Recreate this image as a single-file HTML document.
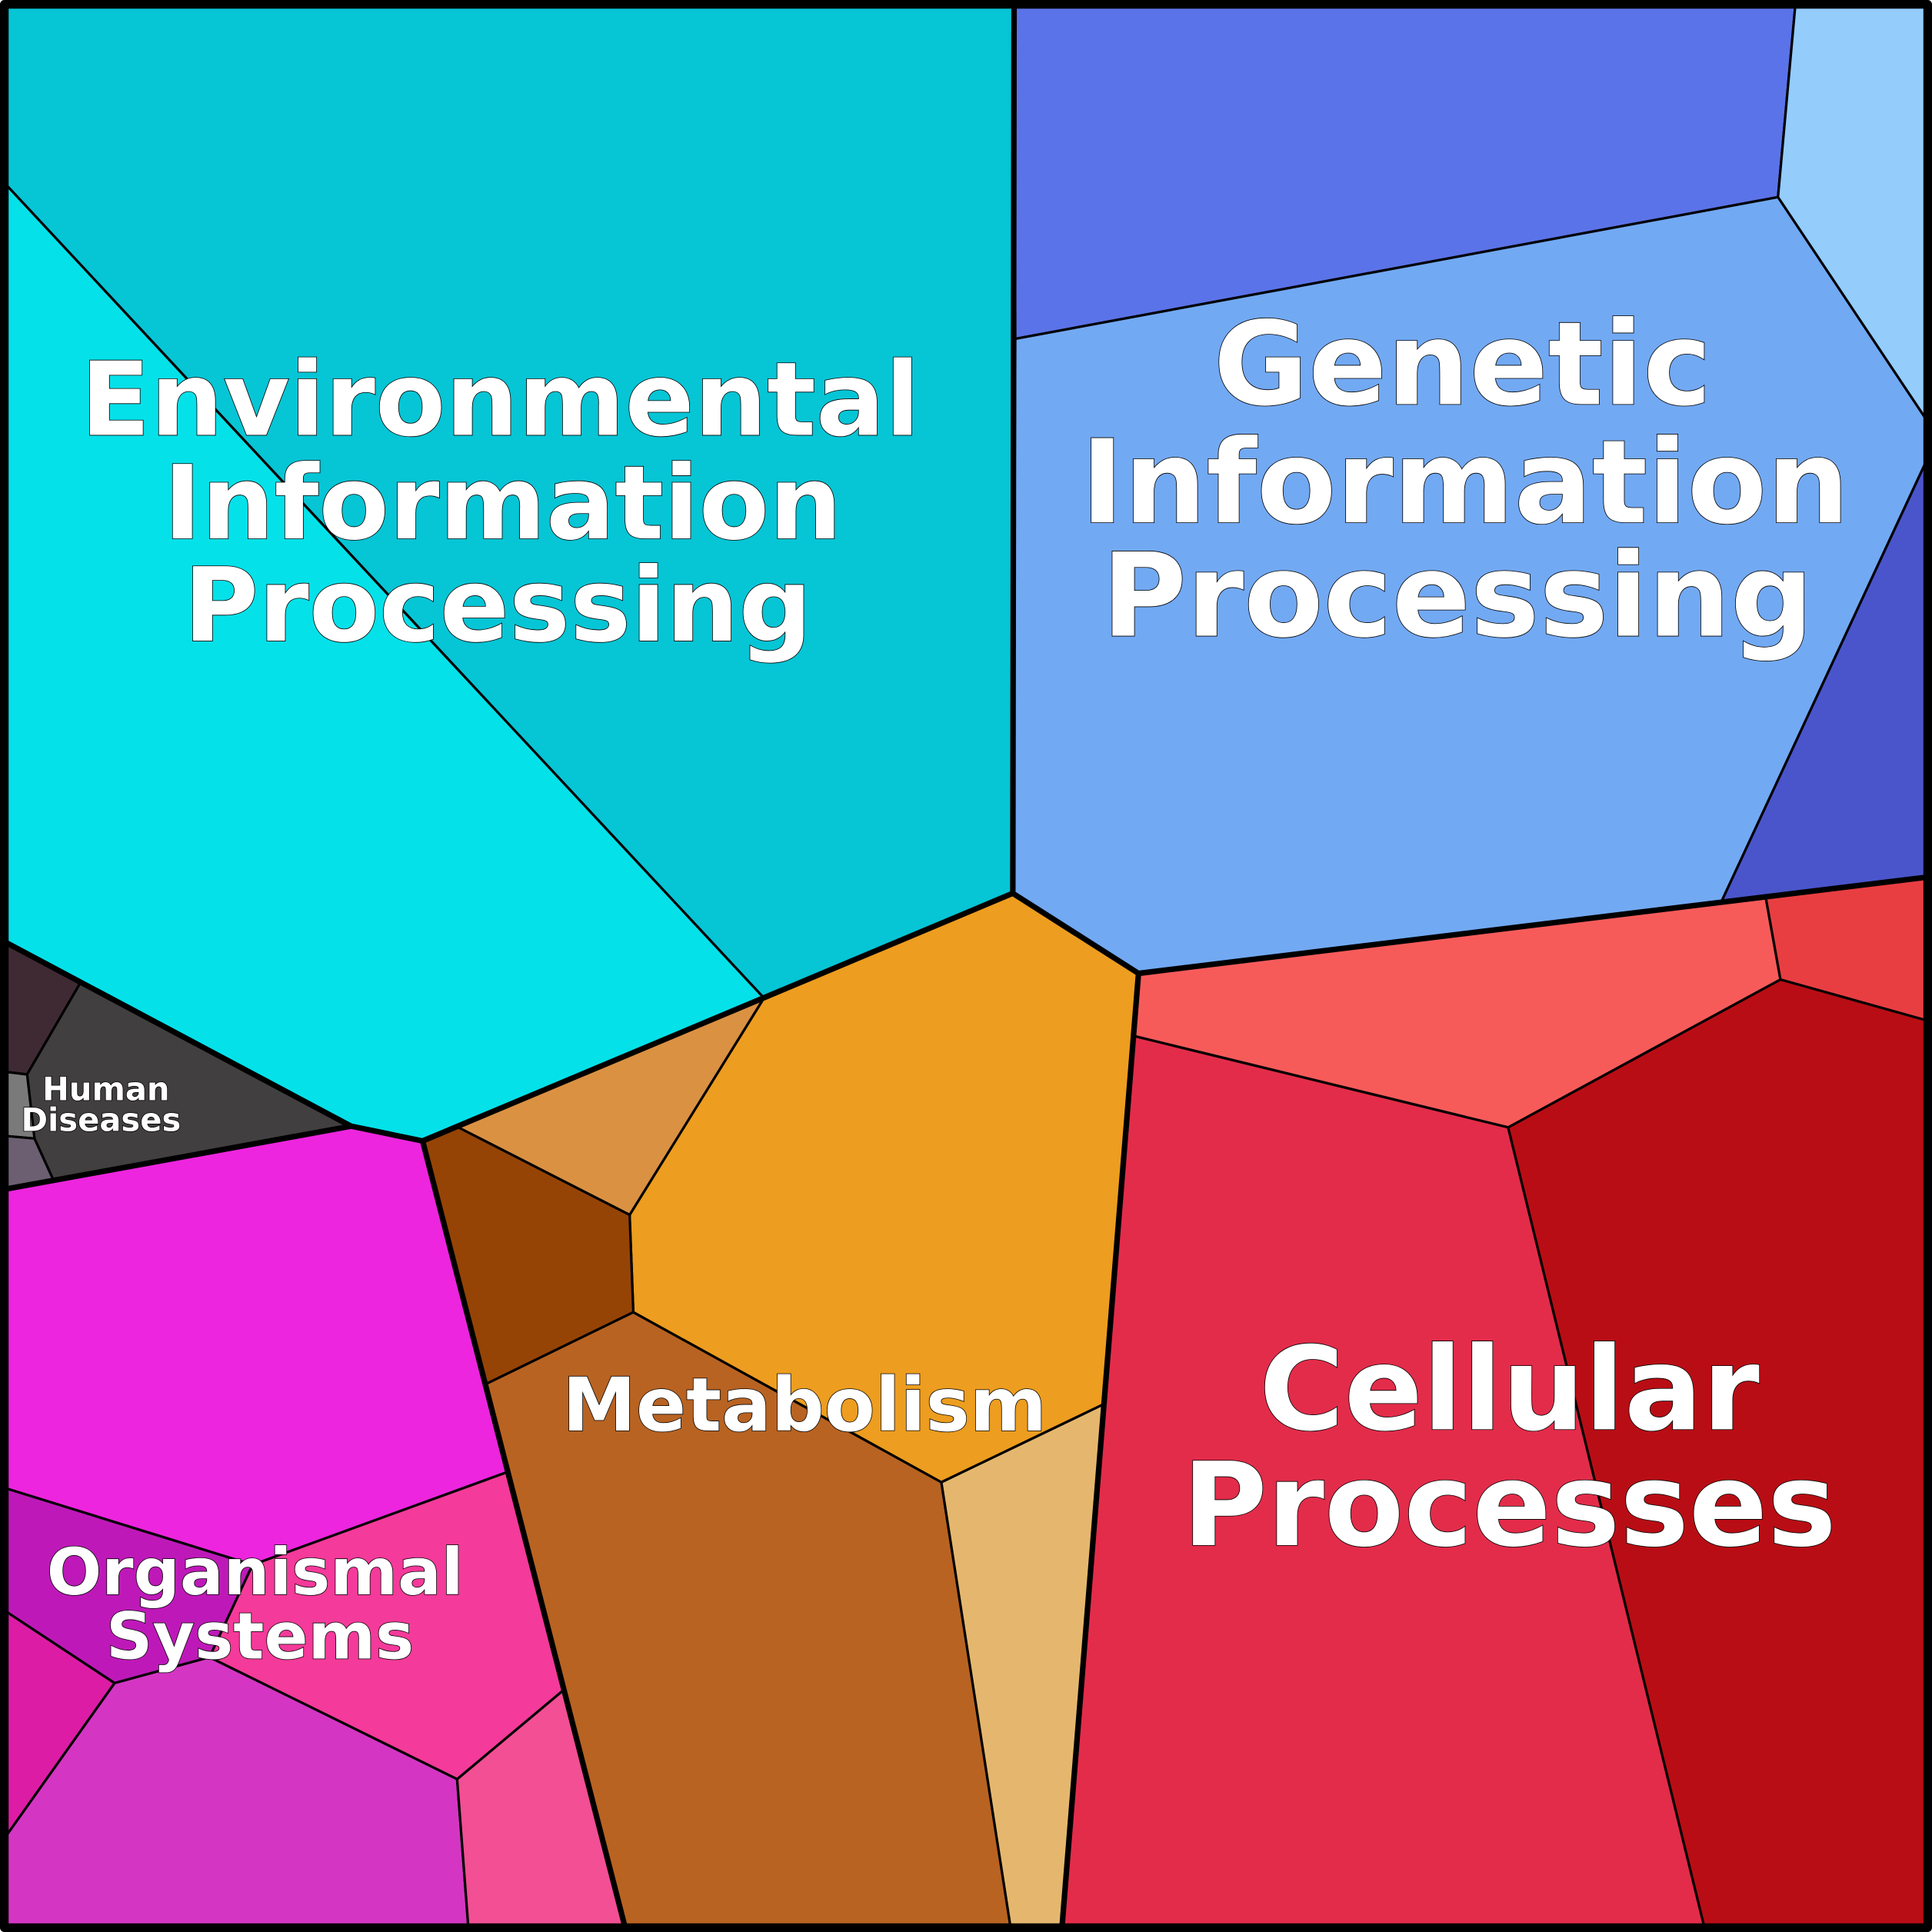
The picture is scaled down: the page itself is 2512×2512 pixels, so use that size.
<!DOCTYPE html>
<html><head><style>html,body{margin:0;padding:0;background:#fff}svg{display:block}
text{font-family:"DejaVu Sans","Liberation Sans",sans-serif;font-weight:bold;fill:#fff;stroke:#000;stroke-width:1;paint-order:stroke;text-anchor:middle}</style></head>
<body>
<svg width="2512" height="2512" viewBox="0 0 1568 1568" xmlns="http://www.w3.org/2000/svg">
<g stroke="#000" stroke-width="2" stroke-linejoin="round">
<polygon fill="#06c5d5" points="5,5 823,5 822,725 620,810 5,150"/>
<polygon fill="#05e1e9" points="5,150 620,810 343,926 285,914 5,765"/>
<polygon fill="#5b73e8" points="823,5 1457,5 1443,160 824,275"/>
<polygon fill="#94ccfc" points="1457,5 1563,5 1563,340 1443,160"/>
<polygon fill="#72a9f3" points="824,275 1443,160 1563,340 1563,375 1397,732 924,790 822,725"/>
<polygon fill="#4a55cb" points="1563,375 1563,712 1397,732"/>
<polygon fill="#f65b5a" points="924,790 1433,728 1445,795 1224,915 921,841"/>
<polygon fill="#e83e42" points="1433,728 1563,712 1563,828 1445,795"/>
<polygon fill="#e32c4a" points="921,841 1224,915 1383,1563 862,1563 895,1140"/>
<polygon fill="#b90d15" points="1224,915 1445,795 1563,828 1563,1563 1383,1563"/>
<polygon fill="#ed9d1f" points="620,810 822,725 924,790 895,1140 764,1203 514,1065 511,986"/>
<polygon fill="#da9142" points="372,915 620,810 511,986"/>
<polygon fill="#954406" points="343,926 372,915 511,986 514,1065 395,1123"/>
<polygon fill="#b86322" points="395,1123 514,1065 764,1203 820,1563 507,1563"/>
<polygon fill="#e5b76e" points="764,1203 895,1140 862,1563 820,1563"/>
<polygon fill="#ed25de" points="5,965 285,914 343,926 411,1195 205,1270 5,1208"/>
<polygon fill="#be19b8" points="5,1208 205,1270 170,1345 93,1366 5,1308"/>
<polygon fill="#f43a9a" points="205,1270 411,1195 457,1372 371,1444 170,1345"/>
<polygon fill="#dd1ca6" points="5,1308 93,1366 5,1490"/>
<polygon fill="#d436c3" points="93,1366 170,1345 371,1444 380,1563 5,1563 5,1490"/>
<polygon fill="#f24f94" points="371,1444 457,1372 507,1563 380,1563"/>
<polygon fill="#3f2a34" points="5,765 65,798 22,872 5,870"/>
<polygon fill="#423f40" points="65,798 285,914 43,957 28,924 22,872"/>
<polygon fill="#7a7a7a" points="5,870 22,872 28,924 5,922"/>
<polygon fill="#6b5f71" points="5,922 28,924 43,957 5,965"/>
</g>
<g stroke="#000" stroke-width="4.5" fill="none" stroke-linejoin="round">
<polyline points="823,5 822,725"/>
<polyline points="5,765 285,914 343,926 822,725 924,790 1563,712"/>
<polyline points="924,790 862,1563"/>
<polyline points="343,926 507,1563"/>
<polyline points="285,914 5,965"/>
<rect x="3.5" y="3.5" width="1561" height="1561" stroke-width="7"/>
</g>
<text font-size="83" x="406" y="353">Environmental</text>
<text font-size="83" x="408" y="437">Information</text>
<text font-size="83" x="404" y="520">Processing</text>
<text font-size="94" x="1187" y="328">Genetic</text>
<text font-size="94" x="1189" y="424">Information</text>
<text font-size="94" x="1183" y="516">Processing</text>
<text font-size="94" x="1225" y="1160">Cellular</text>
<text font-size="94" x="1225" y="1254">Processes</text>
<text font-size="60" x="653" y="1161">Metabolism</text>
<text font-size="52.5" x="207" y="1294">Organismal</text>
<text font-size="52.5" x="211" y="1346">Systems</text>
<text font-size="26" x="86" y="893" stroke-width="0.6">Human</text>
<text font-size="26" x="82" y="918" stroke-width="0.6">Diseases</text>
</svg>
</body></html>
